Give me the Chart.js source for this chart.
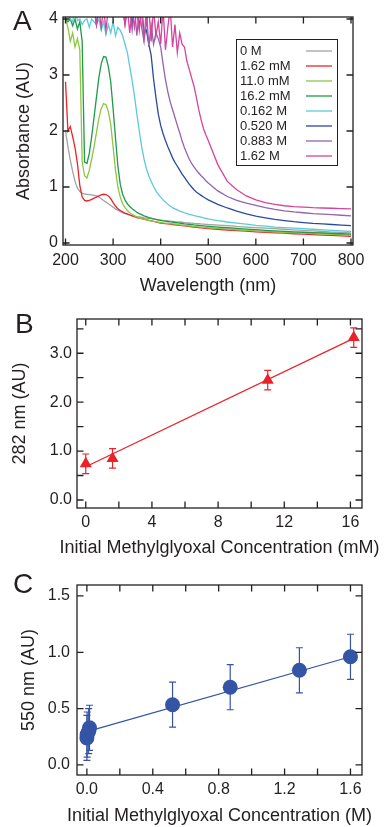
<!DOCTYPE html>
<html><head><meta charset="utf-8">
<script src="https://cdn.jsdelivr.net/npm/chart.js@4.4.1/dist/chart.umd.min.js"></script>
<style>
html,body{margin:0;padding:0;background:#fff;}
body{width:387px;height:827px;position:relative;overflow:hidden;}
.panel{position:absolute;left:0;width:387px;}
canvas{display:block;}
</style></head><body>
<div class="panel" style="top:0;height:300px"><canvas id="cA" width="387" height="300"></canvas></div>
<div class="panel" style="top:300px;height:260px"><canvas id="cB" width="387" height="260"></canvas></div>
<div class="panel" style="top:560px;height:267px"><canvas id="cC" width="387" height="267"></canvas></div>
<script>
// ---------- Panel A data: absorbance spectra ----------
const wavelengths = [200,205,210,215,220,225,230,235,240,245,
 250,255,260,265,270,275,280,285,290,295,
 300,305,310,315,320,325,330,335,340,345,
 350,355,360,365,370,375,380,385,390,395,
 400,405,410,415,420,425,430,435,440,445,
 450,455,460,465,470,475,480,485,490,495,
 500,520,540,560,580,600,620,640,660,680,
 700,720,740,760,780,800];
const abs_0M = [2.0,1.72,1.48,1.28,1.1,0.98,0.92,0.89,0.875,0.87,
 0.865,0.86,0.85,0.84,0.82,0.79,0.76,0.73,0.7,0.67,
 0.64,0.61,0.585,0.56,0.54,0.525,0.51,0.5,0.49,0.48,
 0.47,0.465,0.46,0.45,0.445,0.44,0.435,0.43,0.42,0.415,
 0.41,0.405,0.4,0.395,0.39,0.385,0.38,0.378,0.375,0.37,
 0.365,0.36,0.357,0.354,0.35,0.347,0.344,0.34,0.337,0.334,
 0.33,0.32,0.31,0.295,0.285,0.275,0.265,0.255,0.245,0.235,
 0.225,0.215,0.205,0.195,0.188,0.18];
const abs_1_62mM = [2.88,2.0,2.08,1.9,1.7,1.42,1.03,0.82,0.76,0.75,
 0.76,0.78,0.8,0.82,0.84,0.86,0.87,0.865,0.84,0.79,
 0.72,0.66,0.61,0.58,0.555,0.535,0.52,0.5,0.485,0.47,
 0.455,0.445,0.435,0.425,0.415,0.405,0.395,0.385,0.375,0.365,
 0.355,0.35,0.345,0.34,0.335,0.33,0.325,0.32,0.315,0.31,
 0.305,0.3,0.295,0.29,0.285,0.28,0.275,0.27,0.265,0.262,
 0.258,0.245,0.232,0.22,0.21,0.2,0.19,0.182,0.175,0.165,
 0.158,0.15,0.142,0.135,0.128,0.12];
const abs_11_0mM = [4.0,3.85,3.6,3.75,3.5,3.65,3.45,1.45,1.2,1.16,
 1.3,1.5,1.72,1.97,2.22,2.4,2.49,2.47,2.35,2.12,
 1.72,1.3,1.0,0.82,0.7,0.63,0.58,0.54,0.51,0.485,
 0.465,0.45,0.435,0.425,0.415,0.405,0.395,0.385,0.378,0.372,
 0.366,0.36,0.355,0.35,0.345,0.34,0.335,0.33,0.325,0.32,
 0.315,0.31,0.305,0.3,0.296,0.292,0.288,0.284,0.28,0.276,
 0.272,0.26,0.248,0.236,0.225,0.215,0.205,0.197,0.19,0.182,
 0.175,0.168,0.16,0.153,0.147,0.14];
const abs_16_2mM = [4.0,3.95,4.0,3.88,4.0,3.82,3.95,3.6,1.45,1.42,
 1.6,1.9,2.25,2.6,2.95,3.2,3.33,3.32,3.15,2.88,
 2.4,1.88,1.38,1.05,0.87,0.77,0.7,0.65,0.61,0.58,
 0.55,0.525,0.505,0.485,0.47,0.455,0.443,0.432,0.422,0.412,
 0.403,0.396,0.39,0.384,0.378,0.372,0.366,0.36,0.354,0.348,
 0.342,0.337,0.332,0.327,0.322,0.318,0.314,0.31,0.306,0.302,
 0.298,0.285,0.272,0.26,0.248,0.237,0.227,0.218,0.209,0.2,
 0.192,0.185,0.178,0.172,0.165,0.158];
const abs_0_162M = [4.2,4.2,4.0,3.95,4.2,3.97,4.0,3.9,3.98,4.0,
 3.85,4.0,3.95,3.9,4.0,3.8,3.95,3.72,3.9,3.75,
 3.95,3.7,3.85,3.8,3.7,3.55,3.4,3.15,2.9,2.62,
 2.3,2.0,1.72,1.5,1.33,1.2,1.1,1.01,0.93,0.87,
 0.82,0.77,0.73,0.69,0.66,0.63,0.61,0.59,0.57,0.555,
 0.54,0.525,0.51,0.5,0.49,0.48,0.47,0.46,0.45,0.44,
 0.43,0.4,0.375,0.355,0.335,0.315,0.3,0.285,0.275,0.265,
 0.255,0.245,0.235,0.225,0.215,0.205];
const abs_0_520M = [4.2,4.2,4.2,4.2,4.2,4.2,4.2,4.2,4.2,4.2,
 4.2,4.2,4.2,3.9,4.2,4.2,4.2,4.2,4.2,4.2,
 4.2,4.2,4.2,4.2,4.2,4.2,4.2,4.2,3.92,4.2,
 4.2,3.85,4.2,3.75,3.8,3.55,3.35,2.93,2.6,2.3,
 2.1,1.95,1.83,1.72,1.62,1.52,1.44,1.37,1.3,1.23,
 1.17,1.11,1.05,1.0,0.95,0.91,0.88,0.85,0.82,0.795,
 0.77,0.69,0.625,0.57,0.52,0.48,0.45,0.42,0.4,0.38,
 0.365,0.35,0.34,0.33,0.32,0.31];
const abs_0_883M = [4.2,4.2,4.2,4.2,4.2,4.2,4.2,4.2,4.2,4.2,
 4.2,4.2,4.2,4.2,4.2,4.2,4.2,4.2,4.2,4.2,
 4.2,4.2,4.2,4.2,4.2,3.9,4.2,4.2,3.8,4.2,
 3.7,4.2,3.85,3.6,4.2,3.5,3.9,3.55,3.75,3.65,
 3.5,3.2,2.92,2.7,2.52,2.38,2.24,2.1,1.97,1.82,
 1.7,1.6,1.5,1.42,1.36,1.3,1.25,1.2,1.16,1.11,
 1.07,0.93,0.83,0.76,0.71,0.67,0.63,0.6,0.575,0.555,
 0.54,0.525,0.515,0.505,0.495,0.485];
const abs_1_62M = [4.2,4.2,4.2,4.2,4.2,4.2,4.2,4.2,4.2,4.2,
 4.2,4.2,4.2,3.9,4.2,3.85,4.2,3.8,4.2,4.2,
 4.2,4.2,4.2,4.2,4.2,3.9,4.2,3.75,4.2,3.85,
 4.2,3.8,4.2,3.65,3.9,4.2,3.6,4.2,3.7,3.95,
 3.55,4.2,3.45,3.85,4.2,3.5,3.9,3.4,3.75,3.55,
 3.5,3.25,3.1,2.95,2.8,2.6,2.38,2.2,2.04,1.93,
 1.83,1.4,1.1,0.95,0.84,0.77,0.72,0.69,0.665,0.65,
 0.64,0.63,0.625,0.62,0.615,0.61];
const seriesLabels = ['0 M','1.62 mM','11.0 mM','16.2 mM','0.162 M','0.520 M','0.883 M','1.62 M'];
const seriesValues = [abs_0M, abs_1_62mM, abs_11_0mM, abs_16_2mM, abs_0_162M, abs_0_520M, abs_0_883M, abs_1_62M];
const seriesColors = ['#a3a3a3','#ec2227','#8dc641','#1f9a48','#5ccbd8','#2a4a9e','#9463b0','#d6449b'];
const aXTicks = [200,300,400,500,600,700,800];
const aYTicks = [0,1,2,3,4];

// ---------- Panel B data ----------
const bConc = [0, 1.62, 11.0, 16.2];            // mM
const bAbs282 = [0.74, 0.85, 2.45, 3.32];
const bErr = [0.2, 0.2, 0.2, 0.2];
const bFitIntercept = 0.68, bFitSlope = 0.162;
const bXTicks = [0,4,8,12,16];
const bXMinor = [0,2,4,6,8,10,12,14,16];
const bYTicks = [0,1,2,3];
const bYMinor = [0,0.5,1,1.5,2,2.5,3,3.5];

// ---------- Panel C data ----------
const cConc = [0, 0.0016, 0.011, 0.016, 0.52, 0.87, 1.29, 1.6];  // M
const cAbs550 = [0.24, 0.27, 0.30, 0.33, 0.535, 0.69, 0.84, 0.96];
const cErr = [0.2, 0.2, 0.2, 0.2, 0.2, 0.2, 0.2, 0.2];
const cFitIntercept = 0.296, cFitSlope = 0.415;
const cXTicks = [0,0.4,0.8,1.2,1.6];
const cXMinor = [0,0.2,0.4,0.6,0.8,1.0,1.2,1.4,1.6];
const cYTicks = [0,0.5,1,1.5];

// ---------- shared styling ----------
const INK = '#231f20';
const FONT = "'Liberation Sans', Arial, Helvetica, sans-serif";
Chart.defaults.font.family = FONT;
Chart.defaults.color = INK;

const frameTicks = {
  id: 'frameTicks',
  afterDraw(chart, args, o) {
    const {ctx, chartArea: a, scales: {x, y}} = chart;
    ctx.save();
    ctx.strokeStyle = INK; ctx.lineWidth = 1.3;
    ctx.strokeRect(a.left, a.top, a.right - a.left, a.bottom - a.top);
    const L = o.len || 6.5;
    ctx.beginPath();
    o.xTicks.forEach(v => { const p = x.getPixelForValue(v);
      ctx.moveTo(p, a.bottom); ctx.lineTo(p, a.bottom - L);
      ctx.moveTo(p, a.top); ctx.lineTo(p, a.top + L); });
    o.yTicks.forEach(v => { const p = y.getPixelForValue(v);
      ctx.moveTo(a.left, p); ctx.lineTo(a.left + L, p);
      ctx.moveTo(a.right, p); ctx.lineTo(a.right - L, p); });
    ctx.stroke();
    ctx.fillStyle = INK; ctx.textAlign = 'left';
    ctx.font = '28px ' + FONT; ctx.textBaseline = 'alphabetic';
    ctx.fillText(o.letter, o.lx, o.ly);
    if (o.xTitle) {
      ctx.font = '18px ' + FONT; ctx.textAlign = 'center'; ctx.textBaseline = 'middle';
      ctx.fillText(o.xTitle, (a.left + a.right) / 2, o.xTitleY);
    }
    ctx.restore();
  }
};

const legendBox = {
  id: 'legendBox',
  afterDraw(chart, args, o) {
    const {ctx} = chart;
    ctx.save();
    ctx.fillStyle = '#fff'; ctx.fillRect(o.x, o.y, o.w, o.h);
    ctx.strokeStyle = INK; ctx.lineWidth = 1; ctx.strokeRect(o.x + 0.5, o.y + 0.5, o.w, o.h);
    ctx.font = '13px ' + FONT; ctx.textBaseline = 'middle'; ctx.textAlign = 'left';
    chart.data.datasets.forEach((ds, i) => {
      const yy = o.y + o.first + i * o.row;
      ctx.fillStyle = INK; ctx.fillText(ds.label, o.x + 4, yy);
      ctx.strokeStyle = ds.borderColor; ctx.lineWidth = 1.3;
      ctx.beginPath(); ctx.moveTo(o.x + o.s1, yy); ctx.lineTo(o.x + o.s2, yy); ctx.stroke();
    });
    ctx.restore();
  }
};

const errorBars = {
  id: 'errorBars',
  beforeDatasetsDraw(chart, args, o) {
    const {ctx, scales: {x, y}} = chart;
    ctx.save(); ctx.strokeStyle = o.color; ctx.lineWidth = 1.2;
    o.xs.forEach((xv, i) => {
      const px = x.getPixelForValue(xv);
      const t = y.getPixelForValue(o.ys[i] + o.err[i]);
      const b = y.getPixelForValue(o.ys[i] - o.err[i]);
      ctx.beginPath();
      ctx.moveTo(px, t); ctx.lineTo(px, b);
      ctx.moveTo(px - o.cap, t); ctx.lineTo(px + o.cap, t);
      ctx.moveTo(px - o.cap, b); ctx.lineTo(px + o.cap, b);
      ctx.stroke();
    });
    ctx.restore();
  }
};

function axis(opts) {
  return {
    type: 'linear', min: opts.min, max: opts.max,
    grid: {display: false, drawTicks: false}, border: {display: false},
    afterBuildTicks: s => { s.ticks = opts.ticks.map(v => ({value: v})); },
    ticks: {padding: opts.pad, font: {size: 16}, autoSkip: false, maxRotation: 0, color: INK,
      callback: opts.fmt || (v => String(v))},
    title: {display: !!opts.title, text: opts.title || '', font: {size: 18}, color: INK, padding: opts.tpad || 0},
    afterFit: s => { if (opts.w) s.width = opts.w; if (opts.h) s.height = opts.h; }
  };
}
const base = {responsive: false, animation: false, devicePixelRatio: 1, events: []};

// ---------- Chart A ----------
new Chart(document.getElementById('cA'), {
  type: 'scatter',
  data: {datasets: seriesValues.map((vals, i) => ({
    label: seriesLabels[i],
    data: wavelengths.map((w, j) => ({x: w, y: vals[j]})),
    showLine: true, borderColor: seriesColors[i], borderWidth: 1.3,
    pointRadius: 0, tension: 0, order: seriesValues.length - i
  }))},
  options: Object.assign({}, base, {
    layout: {padding: {top: 17, right: 34, left: 0, bottom: 0}},
    plugins: {legend: {display: false}, tooltip: {enabled: false},
      frameTicks: {xTicks: aXTicks, yTicks: aYTicks, letter: 'A', lx: 13, ly: 30},
      legendBox: {x: 236, y: 39, w: 101, h: 126, first: 12, row: 15, s1: 70, s2: 96}},
    scales: {
      x: axis({min: 194.7, max: 804.2, ticks: aXTicks, pad: 6, title: 'Wavelength (nm)', tpad: {top: 0, bottom: 3}, h: 55}),
      y: axis({min: -0.036, max: 4.036, ticks: aYTicks, pad: 5, title: 'Absorbance (AU)', tpad: {top: 13, bottom: 0}, w: 63})
    }
  }),
  plugins: [frameTicks, legendBox]
});

// ---------- Chart B ----------
const bFitX = [Math.min(...bConc), Math.max(...bConc)];
new Chart(document.getElementById('cB'), {
  type: 'scatter',
  data: {datasets: [
    {label: 'fit', data: bFitX.map(x => ({x, y: bFitIntercept + bFitSlope * x})), showLine: true,
      borderColor: '#e8232a', borderWidth: 1.2, pointRadius: 0, order: 2},
    {label: '282 nm', data: bConc.map((x, i) => ({x, y: bAbs282[i]})), pointStyle: 'triangle',
      pointRadius: 7, backgroundColor: '#e8232a', borderColor: '#e8232a', borderWidth: 0, order: 1}
  ]},
  options: Object.assign({}, base, {
    layout: {padding: {top: 19, right: 25, left: 0, bottom: 0}},
    plugins: {legend: {display: false}, tooltip: {enabled: false},
      frameTicks: {xTicks: bXMinor, yTicks: bYMinor, letter: 'B', lx: 15, ly: 33,
        xTitle: 'Initial Methylglyoxal Concentration (mM)', xTitleY: 248},
      errorBars: {xs: bConc, ys: bAbs282, err: bErr, color: '#e8232a', cap: 3.5}},
    scales: {
      x: axis({min: -0.53, max: 16.7, ticks: bXTicks, pad: 5, h: 52}),
      y: axis({min: -0.164, max: 3.70, ticks: bYTicks, pad: 5, title: '282 nm (AU)', tpad: {top: 9, bottom: 0}, w: 77, fmt: v => v.toFixed(1)})
    }
  }),
  plugins: [frameTicks, errorBars]
});

// ---------- Chart C ----------
const cFitX = [Math.min(...cConc), Math.max(...cConc)];
new Chart(document.getElementById('cC'), {
  type: 'scatter',
  data: {datasets: [
    {label: 'fit', data: cFitX.map(x => ({x, y: cFitIntercept + cFitSlope * x})), showLine: true,
      borderColor: '#3454a5', borderWidth: 1.2, pointRadius: 0, order: 2},
    {label: '550 nm', data: cConc.map((x, i) => ({x, y: cAbs550[i]})), pointStyle: 'circle',
      pointRadius: 7.5, backgroundColor: '#3454a5', borderColor: '#3454a5', borderWidth: 0, order: 1}
  ]},
  options: Object.assign({}, base, {
    layout: {padding: {top: 25, right: 25, left: 0, bottom: 0}},
    plugins: {legend: {display: false}, tooltip: {enabled: false},
      frameTicks: {xTicks: cXMinor, yTicks: cYTicks, letter: 'C', lx: 13, ly: 33,
        xTitle: 'Initial Methylglyoxal Concentration (M)', xTitleY: 256},
      errorBars: {xs: cConc, ys: cAbs550, err: cErr, color: '#3454a5', cap: 3.5}},
    scales: {
      x: axis({min: -0.06, max: 1.67, ticks: cXTicks, pad: 5, h: 52, fmt: v => v.toFixed(1)}),
      y: axis({min: -0.089, max: 1.597, ticks: cYTicks, pad: 7, title: '550 nm (AU)', tpad: {top: 18, bottom: 0}, w: 77, fmt: v => v.toFixed(1)})
    }
  }),
  plugins: [frameTicks, errorBars]
});
</script>
</body></html>
